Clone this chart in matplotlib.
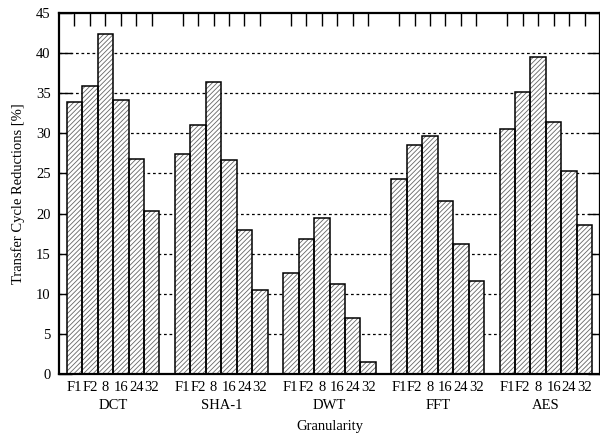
import matplotlib
matplotlib.use("Agg")
import matplotlib.pyplot as plt
import numpy as np

plt.rcParams['font.family'] = ['Liberation Serif', 'DejaVu Serif']
plt.rcParams['hatch.linewidth'] = 0.6

groups = ["DCT", "SHA-1", "DWT", "FFT", "AES"]
bar_labels = ["F1", "F2", "8", "16", "24", "32"]
dct = [33.9, 35.9, 42.4, 34.2, 26.8, 20.3]
sha1 = [27.4, 31.1, 36.4, 26.7, 17.9, 10.4]
dwt = [12.6, 16.8, 19.4, 11.2, 6.9, 1.4]
fft = [24.3, 28.5, 29.7, 21.6, 16.2, 11.6]
aes = [30.6, 35.2, 39.6, 31.4, 25.3, 18.6]
series = [dct, sha1, dwt, fft, aes]
yticks = [0, 5, 10, 15, 20, 25, 30, 35, 40, 45]

fig = plt.figure(figsize=(6.0, 4.4), dpi=100)
ax = fig.add_axes([59/600, (440-373.7)/440, 1.0 - 59/600, (373.7-13.3)/440])

xs, hs, labs = [], [], []
for g, vals in enumerate(series):
    for i, v in enumerate(vals):
        xs.append(g * 7 + i)
        hs.append(v)
        labs.append(bar_labels[i])

# grid
for y in yticks[1:-1]:
    ax.axhline(y, color='black', lw=0.9, ls=(0, (2.2, 2.2)), zorder=1)

ax.bar(xs, hs, width=1.0, color='white', edgecolor='#666666', hatch='///////', lw=0, zorder=2)
ax.bar(xs, hs, width=1.0, fill=False, edgecolor='black', lw=1.1, zorder=3)

ax.set_xlim(-1, 34)
ax.set_ylim(0, 45)
ax.set_yticks(yticks)
ax.tick_params(axis='y', direction='in', length=9, width=1.0, right=True, left=True, labelsize=10.5, pad=6)
ax.set_xticks(xs)
ax.set_xticklabels(labs)
ax.tick_params(axis='x', direction='in', length=9, width=1.0, top=True, bottom=False, labelsize=10.5, pad=5)

for s in ax.spines.values():
    s.set_linewidth(1.6)

for g, name in enumerate(groups):
    ax.text(g * 7 + 2.5, -0.088, name, transform=ax.get_xaxis_transform(), ha='center', va='center', fontsize=10.5)

ax.text(0.5, -0.147, "Granularity", transform=ax.transAxes, ha='center', va='center', fontsize=10.5)
ax.set_ylabel("Transfer Cycle Reductions [%]", fontsize=10.5, labelpad=8)

fig.savefig("out.png", dpi=100)
